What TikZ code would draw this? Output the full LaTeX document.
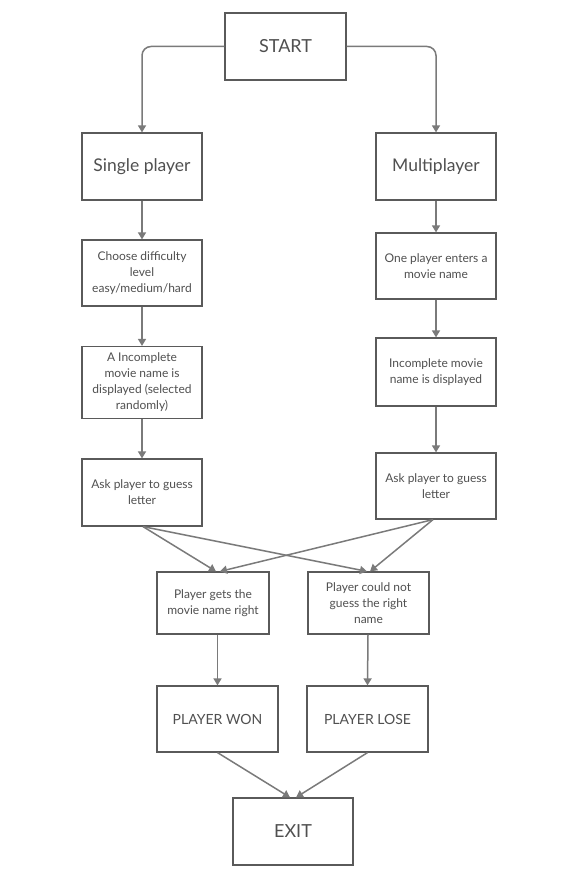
\documentclass[tikz,border=0pt]{standalone}
\usepackage{fontspec}
\setmainfont{Lato}
\usetikzlibrary{arrows.meta}
\definecolor{boxc}{HTML}{5A5A5A}
\definecolor{linec}{HTML}{7A7A7A}
\definecolor{txtc}{HTML}{505050}
\begin{document}
\begin{tikzpicture}[x=1pt,y=-1pt,
  box/.style={draw=boxc,line width=1.2pt,fill=white,inner sep=0pt,align=center,text=txtc},
  big/.style={box,font=\fontsize{18}{21}\selectfont},
  mid/.style={box,font=\fontsize{17.5}{21}\selectfont},
  small/.style={box,font=\fontsize{12}{16}\selectfont},
  caps/.style={box,font=\fontsize{14}{17}\selectfont},
  arr/.style={draw=linec,line width=1.5pt,-{Triangle[length=7pt,width=8pt]}}]
\useasboundingbox (0,0) rectangle (584,882);
\node[big,minimum width=121pt,minimum height=67pt] (start) at (285.5,46.5) {START};
\node[mid,minimum width=120pt,minimum height=67pt] (single) at (142,166.5) {Single player};
\node[mid,minimum width=120pt,minimum height=67pt] (multi) at (436,166.5) {Multiplayer};
\node[small,minimum width=120pt,minimum height=66pt] (choose) at (142,273) {Choose difficulty\\level\\easy/medium/hard};
\node[small,minimum width=120pt,minimum height=66pt] (enter) at (436,266) {One player enters a\\movie name};
\node[small,minimum width=120pt,minimum height=72pt] (incl) at (142,382.5) {A Incomplete\\movie name is\\displayed (selected\\randomly)};
\node[small,minimum width=120pt,minimum height=68pt] (incr) at (436,372) {Incomplete movie\\name is displayed};
\node[small,minimum width=120pt,minimum height=67pt] (askl) at (142,492.5) {Ask player to guess\\letter};
\node[small,minimum width=120pt,minimum height=66pt] (askr) at (436,486) {Ask player to guess\\letter};
\node[small,minimum width=112pt,minimum height=62pt] (gets) at (213,603) {Player gets the\\movie name right};
\node[small,minimum width=121pt,minimum height=62pt] (cant) at (368.5,603) {Player could not\\guess the right\\name};
\node[caps,minimum width=121pt,minimum height=66pt] (won) at (217.5,719) {PLAYER WON};
\node[caps,minimum width=121pt,minimum height=66pt] (lose) at (367.5,719) {PLAYER LOSE};
\node[big,minimum width=120pt,minimum height=67pt] (exit) at (293,831.5) {EXIT};
% start connectors
\draw[arr,rounded corners=9pt] (start.west) -| (single.north);
\draw[arr,rounded corners=9pt] (start.east) -| (multi.north);
% columns
\draw[arr] (single) -- (choose);
\draw[arr] (choose) -- (incl);
\draw[arr] (incl) -- (askl);
\draw[arr] (multi) -- (enter);
\draw[arr] (enter) -- (incr);
\draw[arr] (incr) -- (askr);
% crossing
\coordinate (la) at ([xshift=1pt]askl.south);
\coordinate (ra) at ([xshift=-3pt]askr.south);
\draw[arr] (la) -- ([xshift=3pt]gets.north);
\draw[arr] (la) -- ([xshift=-1.5pt]cant.north);
\draw[arr] (ra) -- ([xshift=7pt]gets.north);
\draw[arr] (ra) -- ([xshift=1.5pt]cant.north);
% result
\draw[arr] ([xshift=4.5pt]gets.south) -- (won.north);
\draw[arr] ([xshift=-0.5pt]cant.south) -- (lose.north);
\draw[arr] (won.south) -- ([xshift=-3pt]exit.north);
\draw[arr] (lose.south) -- ([xshift=3pt]exit.north);
\end{tikzpicture}
\end{document}
